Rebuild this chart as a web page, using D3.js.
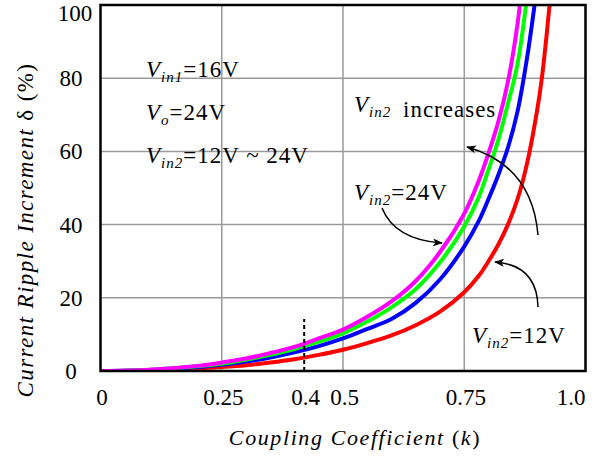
<!DOCTYPE html>
<html>
<head>
<meta charset="utf-8">
<script src="https://cdn.jsdelivr.net/npm/d3@7"></script>
<style>
  body { margin: 0; background: #fff; }
  text { font-family: "Liberation Serif", "Times New Roman", serif; fill: #000; }
</style>
</head>
<body>
<svg id="chart" width="602" height="456"></svg>
<script>
// readings taken off the original figure (coupling coefficient k -> ripple increment %)
var kGrid = [0, 0.1, 0.2, 0.25, 0.3, 0.35, 0.4, 0.45, 0.5, 0.55, 0.6, 0.65, 0.7, 0.75, 0.78, 0.8, 0.82, 0.84, 0.86, 0.88, 0.9, 0.91, 0.92, 0.93];

var d12    = [0, 0.17, 0.7, 1.1, 1.6, 2.3, 3.2, 4.4, 5.8, 7.6, 9.7, 12.5, 16.2, 21.5, 26, 30, 34.5, 40, 47, 57, 71, 80, 92, 106];
var d16    = [0, 0.27, 1.1, 1.7, 2.6, 3.7, 5.1, 6.8, 8.9, 11.5, 14.2, 18.6, 25, 34, 41, 47, 53.5, 61, 71, 86, 105];
var d20    = [0, 0.3, 1.3, 2.0, 3.1, 4.4, 6.0, 8.0, 10.3, 13.5, 17.4, 22.4, 29.7, 39.5, 47.5, 55, 63, 73, 84, 103];
var d24    = [0, 0.35, 1.4, 2.3, 3.4, 4.9, 6.6, 8.9, 11.3, 14.8, 19, 24.6, 32.5, 43, 52, 59.5, 68, 79, 95, 120];

var seriesColors = ["#ff0000", "#0000ff", "#00ff00", "#ff00ff"];

var xTicks = [0, 0.25, 0.42, 0.5, 0.75, 1.0];
var xTickLabels = ["0", "0.25", "0.4", "0.5", "0.75", "1.0"];
var yTicks = [0, 20, 40, 60, 80, 100];
var xGrid = [0.25, 0.5, 0.75];
var yGrid = [20, 40, 60, 80];

var kMark = 0.42, dMark = 14.2;

var series = [d12, d16, d20, d24];

var svg = d3.select("#chart");
var x = d3.scaleLinear().domain([0, 1]).range([100.5, 585.5]);
var y = d3.scaleLinear().domain([0, 100]).range([371, 5]);

svg.append("defs").append("clipPath").attr("id", "plotClip")
    .append("rect")
    .attr("x", x(0)).attr("y", y(100))
    .attr("width", x(1) - x(0)).attr("height", y(0) - y(100));

// grid
svg.selectAll(".vgrid").data(xGrid).enter().append("line")
    .attr("x1", d => x(d)).attr("x2", d => x(d))
    .attr("y1", y(0)).attr("y2", y(100))
    .attr("stroke", "#9a9a9a").attr("stroke-width", 1.5);
svg.selectAll(".hgrid").data(yGrid).enter().append("line")
    .attr("x1", x(0)).attr("x2", x(1))
    .attr("y1", d => y(d)).attr("y2", d => y(d))
    .attr("stroke", "#9a9a9a").attr("stroke-width", 1.5);

// curves
var line = d3.line().x(d => x(d[0])).y(d => y(d[1])).curve(d3.curveCatmullRom.alpha(0.5));
var plot = svg.append("g").attr("clip-path", "url(#plotClip)");
series.forEach(function(vals, i){
    var pts = vals.map((v, j) => [kGrid[j], v]);
    plot.append("path").datum(pts)
        .attr("d", line)
        .attr("fill", "none")
        .attr("stroke", seriesColors[i])
        .attr("stroke-width", 4);
});

// dashed marker
svg.append("line")
    .attr("x1", x(kMark)).attr("x2", x(kMark))
    .attr("y1", y(0)).attr("y2", y(dMark))
    .attr("stroke", "#000").attr("stroke-width", 2)
    .attr("stroke-dasharray", "4,3");

// frame
svg.append("rect")
    .attr("x", x(0)).attr("y", y(100))
    .attr("width", x(1) - x(0)).attr("height", y(0) - y(100))
    .attr("fill", "none").attr("stroke", "#000").attr("stroke-width", 2.5);

// tick labels
svg.selectAll(".ylab").data(yTicks).enter().append("text")
    .attr("x", d => d == 100 ? 75 : 71)
    .attr("y", d => d == 100 ? y(d) + 7.5 : y(d))
    .attr("dy", "0.35em")
    .attr("text-anchor", "middle")
    .style("font-size", "23px")
    .text(d => d);

svg.selectAll(".xlab").data(xTicks).enter().append("text")
    .attr("x", (d, i) => i == xTicks.length - 1 ? x(d) : x(d) + 1.5)
    .attr("y", 405)
    .attr("text-anchor", (d, i) => i == xTicks.length - 1 ? "end" : "middle")
    .style("font-size", "23px")
    .text((d, i) => xTickLabels[i]);

// axis titles
var xt = svg.append("text").attr("x", 355).attr("y", 445)
    .attr("text-anchor", "middle").style("font-size", "22px")
    .style("letter-spacing", "1.6px");
xt.append("tspan").style("font-style", "italic").text("Coupling Coefficient ");
xt.append("tspan").text("(");
xt.append("tspan").style("font-style", "italic").text("k");
xt.append("tspan").text(")");

var yt = svg.append("text")
    .attr("transform", "translate(33,230) rotate(-90)")
    .attr("text-anchor", "middle").style("font-size", "23px")
    .style("letter-spacing", "1.4px");
yt.append("tspan").style("font-style", "italic").text("Current Ripple Increment ");
yt.append("tspan").text("\u03b4 (%)");

// annotations
function vLabel(px, py, sub, rest){
    var t = svg.append("text").attr("x", px).attr("y", py)
        .style("font-size", "23px").style("letter-spacing", "1px");
    t.append("tspan").style("font-style", "italic").text("V");
    t.append("tspan").style("font-style", "italic").style("font-size", "15px").attr("dy", 5).text(sub);
    t.append("tspan").attr("dy", -5).text(rest);
    return t;
}
vLabel(146, 77, "in1", "=16V");
vLabel(146, 120, "o", "=24V");
vLabel(146, 163, "in2", "=12V ~ 24V");
vLabel(354, 112, "in2", "").append("tspan").attr("x", 403).text("increases");
vLabel(354, 200, "in2", "=24V");
vLabel(472, 343, "in2", "=12V");

// arrows
svg.select("defs").append("marker")
    .attr("id", "head").attr("viewBox", "0 0 10 10")
    .attr("refX", 9).attr("refY", 5)
    .attr("markerWidth", 10).attr("markerHeight", 10)
    .attr("markerUnits", "userSpaceOnUse")
    .attr("orient", "auto")
    .append("path").attr("d", "M0,1 L10,5 L0,9 L2.5,5 Z").attr("fill", "#000");

var arrows = [
    [[538, 235], [532, 165], [467, 147]],
    [[382, 208], [395, 240], [442, 243]],
    [[538, 307], [537, 265], [495, 262]]
];
arrows.forEach(function(a){
    var p = d3.path();
    p.moveTo(a[0][0], a[0][1]);
    p.quadraticCurveTo(a[1][0], a[1][1], a[2][0], a[2][1]);
    svg.append("path").attr("d", p.toString())
        .attr("fill", "none").attr("stroke", "#000").attr("stroke-width", 1.5)
        .attr("marker-end", "url(#head)");
});
</script>
</body>
</html>
